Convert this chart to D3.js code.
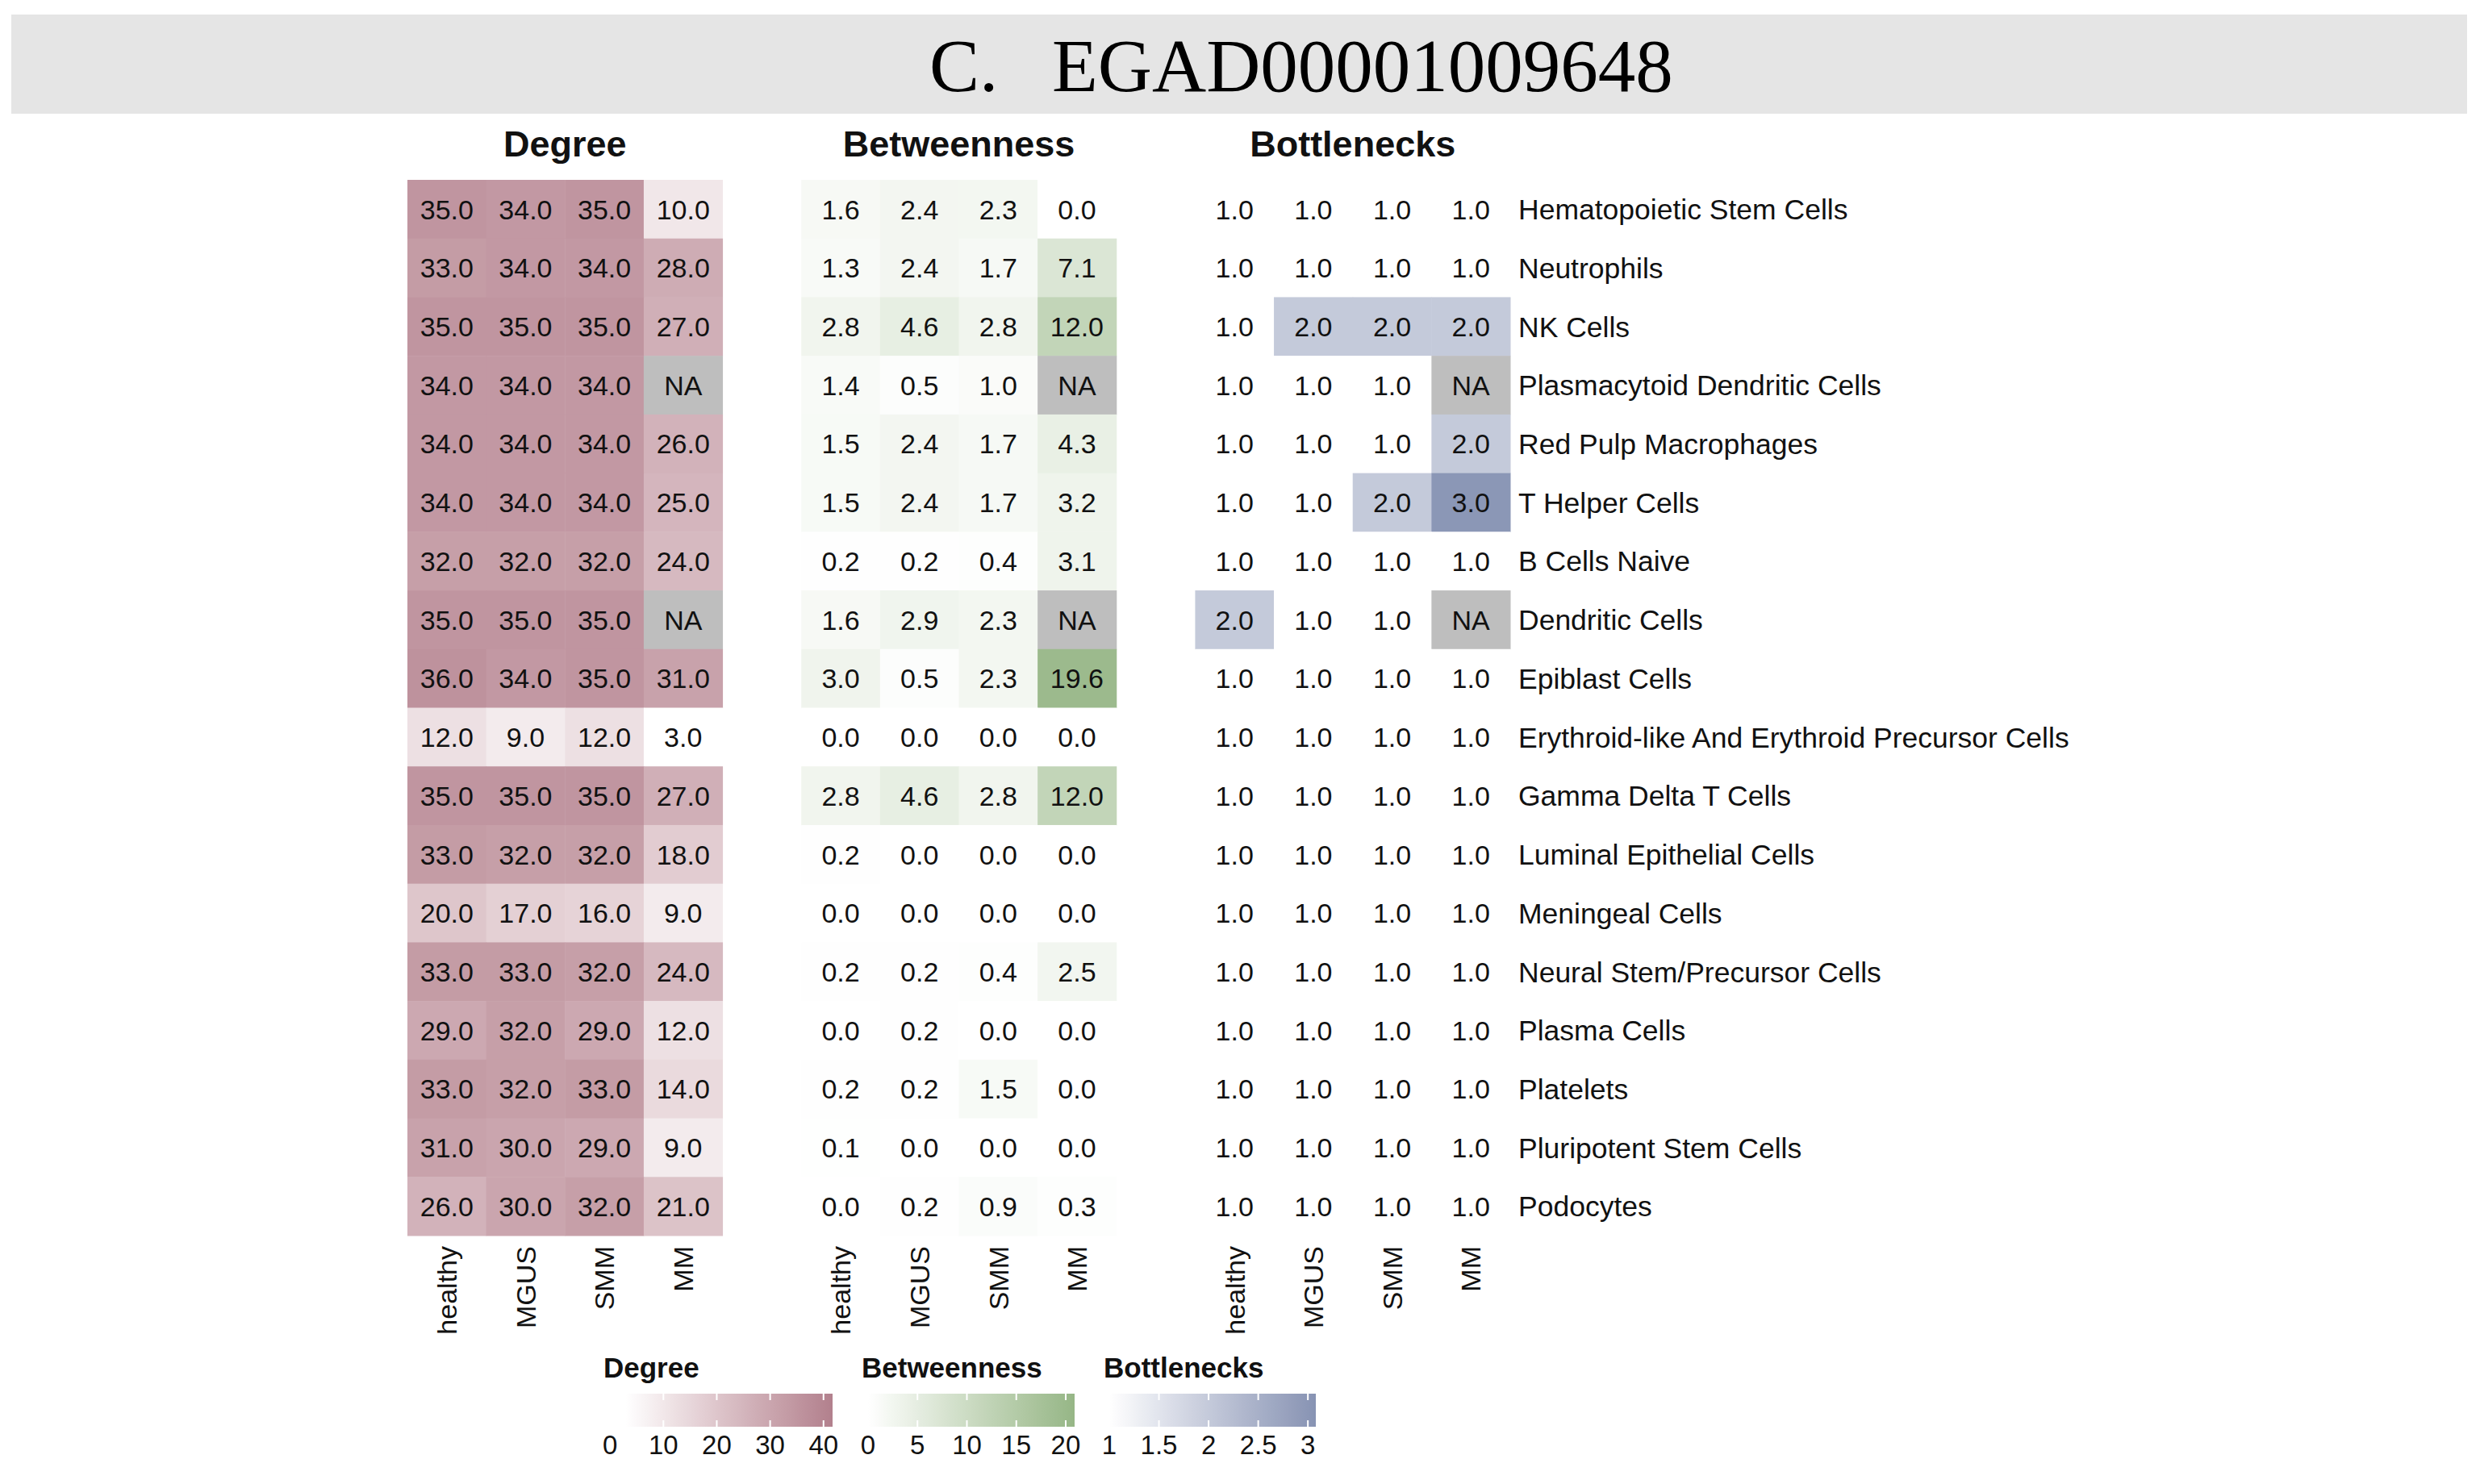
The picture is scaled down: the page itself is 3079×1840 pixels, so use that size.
<!DOCTYPE html>
<html lang="en">
  <head>
    <meta charset="UTF-8">
    <meta name="viewport" content="width=device-width, initial-scale=1.0">
    <script type="text/javascript" src="https://cdn.jsdelivr.net/npm/d3@7"></script>
    <style>
      body { margin: 0; background: #fff; }
      svg text { font-family: "Liberation Sans", Arial, sans-serif; fill: #111; }
    </style>
    <title>EGAD00001009648</title>
  </head>
  <body>
    <script type="text/javascript">
      // Network metrics per cell type, one heatmap block per metric

      let cellTypes = ['Hematopoietic Stem Cells', 'Neutrophils', 'NK Cells',
        'Plasmacytoid Dendritic Cells', 'Red Pulp Macrophages', 'T Helper Cells',
        'B Cells Naive', 'Dendritic Cells', 'Epiblast Cells',
        'Erythroid-like And Erythroid Precursor Cells', 'Gamma Delta T Cells',
        'Luminal Epithelial Cells', 'Meningeal Cells', 'Neural Stem/Precursor Cells',
        'Plasma Cells', 'Platelets', 'Pluripotent Stem Cells', 'Podocytes'];

      let conditions = ['healthy', 'MGUS', 'SMM', 'MM'];

      // rows follow cellTypes, columns follow conditions (null = NA)
      let degree = [
        [35, 34, 35, 10], [33, 34, 34, 28], [35, 35, 35, 27], [34, 34, 34, null],
        [34, 34, 34, 26], [34, 34, 34, 25], [32, 32, 32, 24], [35, 35, 35, null],
        [36, 34, 35, 31], [12, 9, 12, 3], [35, 35, 35, 27], [33, 32, 32, 18],
        [20, 17, 16, 9], [33, 33, 32, 24], [29, 32, 29, 12], [33, 32, 33, 14],
        [31, 30, 29, 9], [26, 30, 32, 21]
      ];

      let betweenness = [
        [1.6, 2.4, 2.3, 0.0], [1.3, 2.4, 1.7, 7.1], [2.8, 4.6, 2.8, 12.0], [1.4, 0.5, 1.0, null],
        [1.5, 2.4, 1.7, 4.3], [1.5, 2.4, 1.7, 3.2], [0.2, 0.2, 0.4, 3.1], [1.6, 2.9, 2.3, null],
        [3.0, 0.5, 2.3, 19.6], [0.0, 0.0, 0.0, 0.0], [2.8, 4.6, 2.8, 12.0], [0.2, 0.0, 0.0, 0.0],
        [0.0, 0.0, 0.0, 0.0], [0.2, 0.2, 0.4, 2.5], [0.0, 0.2, 0.0, 0.0], [0.2, 0.2, 1.5, 0.0],
        [0.1, 0.0, 0.0, 0.0], [0.0, 0.2, 0.9, 0.3]
      ];

      let bottlenecks = [
        [1, 1, 1, 1], [1, 1, 1, 1], [1, 2, 2, 2], [1, 1, 1, null],
        [1, 1, 1, 2], [1, 1, 2, 3], [1, 1, 1, 1], [2, 1, 1, null],
        [1, 1, 1, 1], [1, 1, 1, 1], [1, 1, 1, 1], [1, 1, 1, 1],
        [1, 1, 1, 1], [1, 1, 1, 1], [1, 1, 1, 1], [1, 1, 1, 1],
        [1, 1, 1, 1], [1, 1, 1, 1]
      ];

      let degreeTicks = [0, 10, 20, 30, 40];
      let betweennessTicks = [0, 5, 10, 15, 20];
      let bottleneckTicks = [1, 1.5, 2, 2.5, 3];

      let w = 3079;
      let h = 1840;
      let cw = (1872 - 505) / 14;   // cell width
      let naColor = '#bebebe';
      let fmt = d3.format('.1f');

      let metrics = [
        { name: 'Degree', values: degree, domain: [3, 41.7], high: '#b2808d',
          ticks: degreeTicks, left: 505, legendLeft: 776, titleX: 748 },
        { name: 'Betweenness', values: betweenness, domain: [0, 20.9], high: '#96b686',
          ticks: betweennessTicks, left: 505 + 5 * cw, legendLeft: 1076, titleX: 1068 },
        { name: 'Bottlenecks', values: bottlenecks, domain: [1, 3.08], high: '#8793b3',
          ticks: bottleneckTicks, left: 505 + 10 * cw, legendLeft: 1375, titleX: 1368 }
      ];

      let svg = d3.select('body')
                  .append('svg')
                  .attr('width', w)
                  .attr('height', h);

      // Title band
      svg.append('rect')
          .attr('x', 14).attr('y', 18)
          .attr('width', 3044).attr('height', 123)
          .attr('fill', '#e5e5e5');

      let title = svg.append('text')
          .attr('y', 113)
          .style('font-family', '"Liberation Serif", "Times New Roman", serif')
          .style('font-size', '93px')
          .style('fill', '#000');
      title.append('tspan').attr('x', 1152).text('C.');
      title.append('tspan').attr('x', 1304).text('EGAD00001009648');

      let yScale = d3.scaleBand()
                      .domain(cellTypes)
                      .range([223, 1532]);

      metrics.forEach(m => {
        let xScale = d3.scaleBand()
                        .domain(conditions)
                        .range([m.left, m.left + 4 * cw]);

        let color = d3.scaleLinear()
                        .domain(m.domain)
                        .range(['#ffffff', m.high])
                        .interpolate(d3.interpolateLab)
                        .clamp(true);

        let cells = [];
        m.values.forEach((row, i) => row.forEach((v, j) => {
          cells.push({ type: cellTypes[i], cond: conditions[j], value: v });
        }));

        let g = svg.append('g');

        g.selectAll('rect')
          .data(cells)
          .enter()
          .append('rect')
          .attr('x', d => xScale(d.cond))
          .attr('y', d => yScale(d.type))
          .attr('width', xScale.bandwidth() + 0.5)
          .attr('height', yScale.bandwidth() + 0.5)
          .attr('fill', d => d.value === null ? naColor : color(d.value));

        g.selectAll('text.val')
          .data(cells)
          .enter()
          .append('text')
          .attr('class', 'val')
          .text(d => d.value === null ? 'NA' : fmt(d.value))
          .attr('x', d => xScale(d.cond) + xScale.bandwidth() / 2)
          .attr('y', d => yScale(d.type) + yScale.bandwidth() / 2)
          .attr('dy', '0.36em')
          .attr('text-anchor', 'middle')
          .style('font-size', '34px');

        // Block title
        g.append('text')
          .text(m.name)
          .attr('x', m.left + 2 * cw)
          .attr('y', 194)
          .attr('text-anchor', 'middle')
          .style('font-size', '45px')
          .style('font-weight', 'bold');

        // Column labels, rotated
        g.selectAll('text.col')
          .data(conditions)
          .enter()
          .append('text')
          .attr('class', 'col')
          .text(d => d)
          .attr('transform', d => 'translate(' + (xScale(d) + xScale.bandwidth() / 2) + ',1545) rotate(-90)')
          .attr('dy', '0.36em')
          .attr('text-anchor', 'end')
          .style('font-size', '34px');

        // Legend colour bar
        let barW = 256;
        let lx = d3.scaleLinear()
                    .domain(m.domain)
                    .range([m.legendLeft, m.legendLeft + barW]);

        let gradId = 'grad-' + m.name;
        let grad = svg.append('defs')
                      .append('linearGradient')
                      .attr('id', gradId);
        grad.selectAll('stop')
            .data(d3.range(0, 1.0001, 0.05))
            .enter()
            .append('stop')
            .attr('offset', d => d)
            .attr('stop-color', d => color(m.domain[0] + d * (m.domain[1] - m.domain[0])));

        let lg = svg.append('g');
        lg.append('text')
          .text(m.name)
          .attr('x', m.titleX)
          .attr('y', 1708)
          .style('font-size', '35px')
          .style('font-weight', 'bold');

        lg.append('rect')
          .attr('x', lx.range()[0])
          .attr('y', 1728)
          .attr('width', barW)
          .attr('height', 41)
          .attr('fill', 'url(#' + gradId + ')');

        let inBar = m.ticks.filter(t => t >= m.domain[0]);
        lg.selectAll('line.top')
          .data(inBar)
          .enter()
          .append('line')
          .attr('x1', d => lx(d)).attr('x2', d => lx(d))
          .attr('y1', 1728).attr('y2', 1736)
          .attr('stroke', '#fff').attr('stroke-width', 2);
        lg.selectAll('line.bot')
          .data(inBar)
          .enter()
          .append('line')
          .attr('x1', d => lx(d)).attr('x2', d => lx(d))
          .attr('y1', 1761).attr('y2', 1769)
          .attr('stroke', '#fff').attr('stroke-width', 2);

        lg.selectAll('text.tick')
          .data(m.ticks)
          .enter()
          .append('text')
          .attr('class', 'tick')
          .text(d => d)
          .attr('x', d => lx(d))
          .attr('y', 1803)
          .attr('text-anchor', 'middle')
          .style('font-size', '33px');
      });

      // Row labels
      svg.selectAll('text.row')
          .data(cellTypes)
          .enter()
          .append('text')
          .attr('class', 'row')
          .text(d => d)
          .attr('x', 1882)
          .attr('y', d => yScale(d) + yScale.bandwidth() / 2)
          .attr('dy', '0.36em')
          .style('font-size', '35.5px');
    </script>
  </body>
</html>
